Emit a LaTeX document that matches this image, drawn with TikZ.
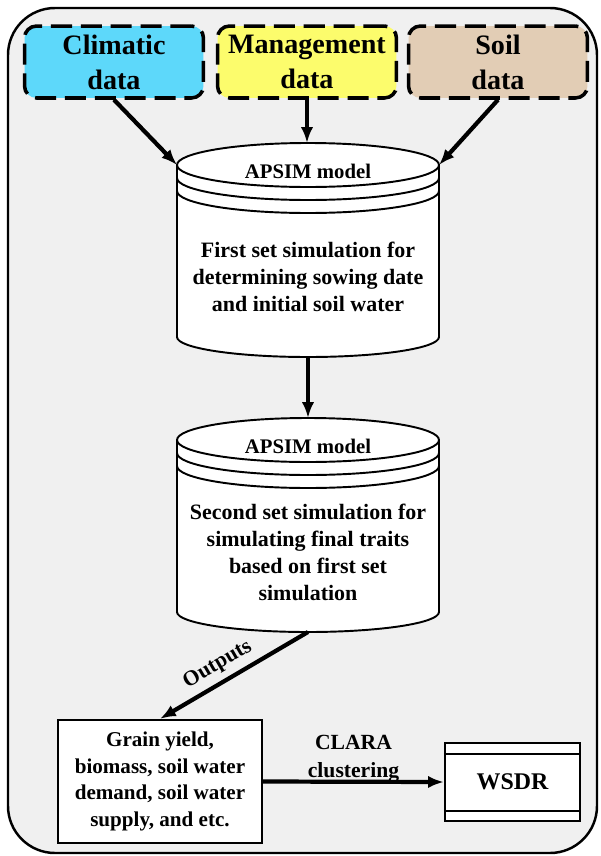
\documentclass[tikz,border=0pt]{standalone}
\usepackage{fontspec}
\setmainfont{Liberation Serif}
\usetikzlibrary{arrows.meta,positioning}
\definecolor{wsdrCyan}{HTML}{5DD8FA}
\definecolor{wsdrYellow}{HTML}{FCFC6C}
\definecolor{wsdrTan}{HTML}{E2CDB5}
\definecolor{wsdrPanel}{HTML}{F0F0F0}

\begin{document}
\begin{tikzpicture}[x=0.02cm,y=-0.02cm,font=\bfseries,
    databox/.style={draw=black,line width=2pt,dash pattern=on 12pt off 5pt,rounded corners=0.24cm,
                  minimum width=3.58cm,minimum height=1.44cm,align=center,inner sep=2pt,
                  font=\bfseries\fontsize{16}{20}\selectfont},
    cylline/.style={draw=black,line width=1.1pt},
    cyltext/.style={align=center,font=\bfseries\fontsize{12.5}{15.4}\selectfont},
    model/.style={font=\bfseries\fontsize{11.8}{14}\selectfont},
    outbox/.style={draw=black,fill=white,line width=1.3pt,align=center,
                  font=\bfseries\fontsize{12}{15.2}\selectfont},
    lbl/.style={align=center,font=\bfseries\fontsize{12.3}{16}\selectfont},
    arr/.style={-{Latex[length=9pt,width=7pt]},black,line width=2.4pt}]
  \fill[white] (0,0) rectangle (600,856);
  \useasboundingbox (0,0) rectangle (600,856);
  \draw[line width=1.4pt,fill=wsdrPanel,rounded corners=0.94cm] (8,8) rectangle (597,853);
  % input data
  \node[databox,fill=wsdrCyan]   (clim) at (114,62) {Climatic\\data};
  \node[databox,fill=wsdrYellow] (mgmt) at (307,62) {Management\\data};
  \node[databox,fill=wsdrTan]    (soil) at (498,62) {Soil\\data};
  % the two APSIM cylinders
  \foreach \cy/\ty/\by in {c1/165/337,c2/440/612} {
    \filldraw[cylline,fill=white] (177,\ty) -- (177,\by)
      arc[start angle=180,end angle=0,x radius=131,y radius=20] -- (439,\ty)
      arc[start angle=0,end angle=-180,x radius=131,y radius=22] -- cycle;
    \foreach \d in {0,13,26}
      \draw[cylline] (177,\ty+\d) arc[start angle=180,end angle=0,x radius=131,y radius=22];
    \coordinate (\cy-top) at (308,\ty-22);
    \coordinate (\cy-left) at (177,\ty);
    \coordinate (\cy-right) at (439,\ty);
    \coordinate (\cy-bot) at (308,\by+20);
    \node[model] (\cy-model) at (308,\ty+6) {APSIM model};
  }
  \node[cyltext] (sim1) at (308,277) {First set simulation for\\determining sowing date\\and initial soil water};
  \node[cyltext] (sim2) at (308,552) {Second set simulation for\\simulating final traits\\based on first set\\simulation};
  % outputs
  \node[outbox,minimum width=4.08cm,minimum height=2.46cm] (grain) at (160,781.5)
    {Grain yield,\\biomass, soil water\\demand, soil water\\supply, and etc.};
  \node[outbox,minimum width=2.7cm,minimum height=1.56cm,font=\bfseries\fontsize{13.6}{16}\selectfont]
    (wsdr) at (512.5,782) {WSDR};
  \draw[line width=1.1pt] ([yshift=-0.24cm]wsdr.north west) -- ([yshift=-0.24cm]wsdr.north east);
  \draw[line width=1.1pt] ([yshift=0.22cm]wsdr.south west) -- ([yshift=0.22cm]wsdr.south east);
  \draw[arr] (clim.south) -- (c1-left);
  \draw[arr] (mgmt.south) -- (mgmt.south |- c1-top);
  \draw[arr] (soil.south) -- (c1-right);
  \draw[arr] (c1-bot) -- (c2-top);
  \draw[arr] (c2-bot) -- node[lbl,sloped,above,pos=0.55] {Outputs} (grain.north);
  \draw[arr] (grain.east) -- node[lbl,yshift=0.46cm] {CLARA\\clustering} (wsdr.west);
\end{tikzpicture}
\end{document}
